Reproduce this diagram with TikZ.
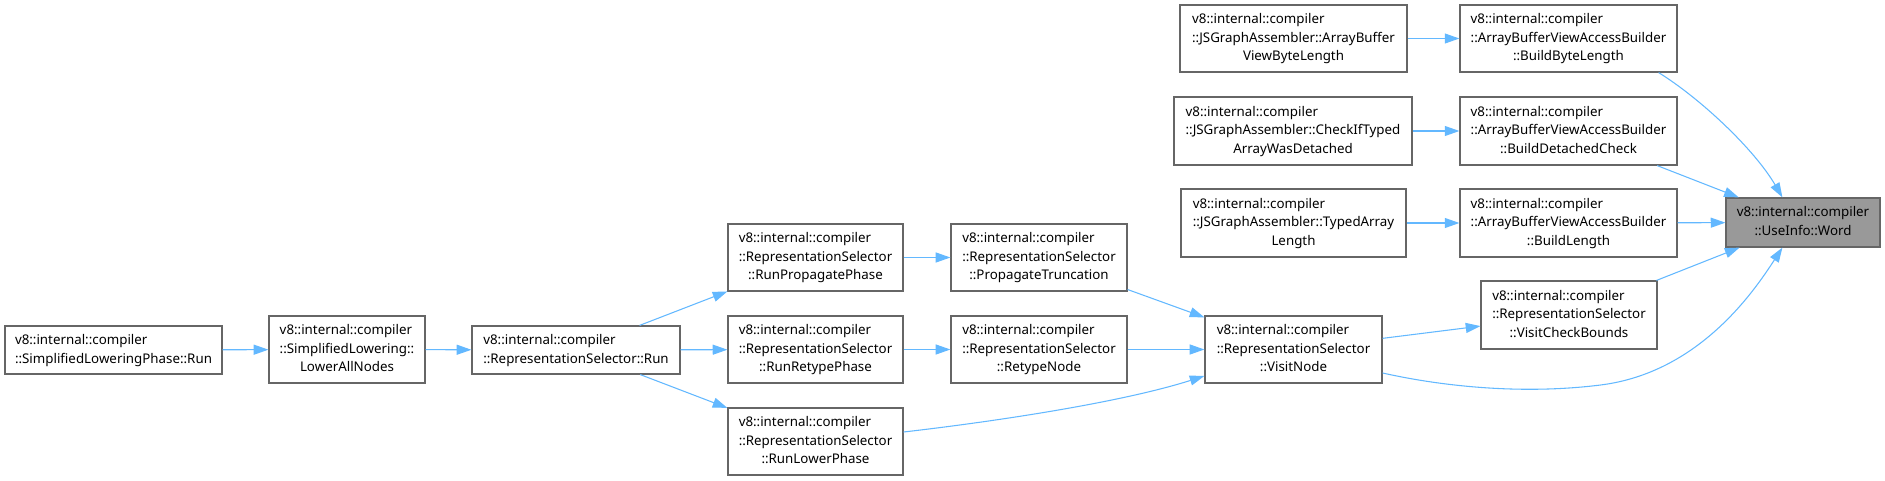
\documentclass[tikz,border=0pt]{standalone}
\usepackage{fontspec}
\setmainfont{Noto Sans}
\usetikzlibrary{arrows.meta,calc}
\definecolor{edgec}{HTML}{63B8FF}
\definecolor{boxc}{HTML}{666666}
\definecolor{wordfill}{HTML}{999999}
\newcommand{\lns}[2]{\begin{tabular}{@{}l@{}}#1\\\multicolumn{1}{@{}c@{}}{#2}\end{tabular}}
\newcommand{\dbox}[7][]{\node[nodebox,#1,minimum width={(#5-#3)*0.75pt},minimum height={(#6-#4)*0.75pt}] (#2) at ({(#3+#5)/2},{(#4+#6)/2}) {#7};}
\tikzset{
  nodebox/.style={draw=boxc, line width=0.9pt, fill=white, rectangle, inner sep=0pt, font=\fontsize{10}{14}\selectfont, text=black},
  edge/.style={draw=edgec, line width=0.8pt, -{Triangle[length=11pt,width=7.5pt]}}
}
\begin{document}
\begin{tikzpicture}[x=0.75pt,y=-0.75pt]
\useasboundingbox (0,0) rectangle (1885,481);
\dbox{slrun}{5}{326}{222}{374}{\lns{v8::internal::compiler}{::SimplifiedLoweringPhase::Run}}
\dbox{lower}{269}{316}{425}{383}{\lns{v8::internal::compiler\\::SimplifiedLowering::}{LowerAllNodes}}
\dbox{rsrun}{472}{326}{680}{374}{\lns{v8::internal::compiler}{::RepresentationSelector::Run}}
\dbox{rpp}{728}{224}{903}{291}{\lns{v8::internal::compiler\\::RepresentationSelector}{::RunPropagatePhase}}
\dbox{rrp}{728}{316}{903}{383}{\lns{v8::internal::compiler\\::RepresentationSelector}{::RunRetypePhase}}
\dbox{rlp}{728}{408}{903}{475}{\lns{v8::internal::compiler\\::RepresentationSelector}{::RunLowerPhase}}
\dbox{pt}{951}{224}{1127}{291}{\lns{v8::internal::compiler\\::RepresentationSelector}{::PropagateTruncation}}
\dbox{rn}{951}{316}{1127}{383}{\lns{v8::internal::compiler\\::RepresentationSelector}{::RetypeNode}}
\dbox{vn}{1205}{316}{1382}{383}{\lns{v8::internal::compiler\\::RepresentationSelector}{::VisitNode}}
\dbox{vcb}{1481}{281}{1657}{349}{\lns{v8::internal::compiler\\::RepresentationSelector}{::VisitCheckBounds}}
\dbox{jabvbl}{1180}{5}{1407}{72}{\lns{v8::internal::compiler\\::JSGraphAssembler::ArrayBuffer}{ViewByteLength}}
\dbox{jcheck}{1174}{97}{1412}{165}{\lns{v8::internal::compiler\\::JSGraphAssembler::CheckIfTyped}{ArrayWasDetached}}
\dbox{jtal}{1181}{189}{1406}{257}{\lns{v8::internal::compiler\\::JSGraphAssembler::TypedArray}{Length}}
\dbox{bbl}{1460}{5}{1677}{72}{\lns{v8::internal::compiler\\::ArrayBufferViewAccessBuilder}{::BuildByteLength}}
\dbox{bdc}{1460}{97}{1677}{165}{\lns{v8::internal::compiler\\::ArrayBufferViewAccessBuilder}{::BuildDetachedCheck}}
\dbox{bl}{1460}{189}{1677}{257}{\lns{v8::internal::compiler\\::ArrayBufferViewAccessBuilder}{::BuildLength}}
\dbox[fill=wordfill]{word}{1726}{198}{1880}{247}{\lns{v8::internal::compiler}{::UseInfo::Word}}

\draw[edge] (slrun) -- (lower);
\draw[edge] (lower) -- (rsrun);
\draw[edge] (rsrun) -- (rpp);
\draw[edge] (rsrun) -- (rrp);
\draw[edge] (rsrun) -- (rlp);
\draw[edge] (rpp) -- (pt);
\draw[edge] (rrp) -- (rn);
\draw[edge] (pt) -- (vn);
\draw[edge] (rn) -- (vn);
\draw[edge] ($(rlp.east)+(0,-9.5)$) .. controls ($(rlp.east)+(87,-19.5)$) and ($(vn.west)+(-85,53.5)$) .. ($(vn.west)+(0,26.5)$);
\draw[edge] (vn) -- (vcb);
\draw[edge] ($(vn.east)+(0,23.5)$) .. controls ($(vn.east)+(58,36.5)$) and ($(vn.east)+(138,45.5)$) .. ($(vn.east)+(218,35.5)$) .. controls ($(word.south west)+(-26,125)$) and ($(word.south west)+(29,43)$) .. ($(word.south west)+(57,0)$);
\draw[edge] (vcb) -- (word);
\draw[edge] (jabvbl) -- (bbl);
\draw[edge] (jcheck) -- (bdc);
\draw[edge] (jtal) -- (bl);
\draw[edge] ($(bbl.south east)+(-19,0)$) .. controls ($(bbl.south east)+(23,26)$) and ($(word.north west)+(29,-48)$) .. ($(word.north west)+(57,0)$);
\draw[edge] (bdc) -- (word);
\draw[edge] (bl) -- (word);
\end{tikzpicture}
\end{document}
